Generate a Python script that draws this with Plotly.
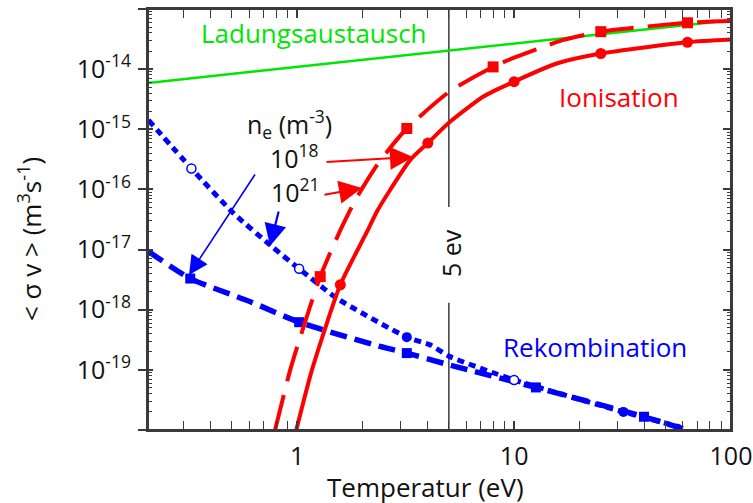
import numpy as np
import plotly.graph_objects as go

# ---------------- data ----------------
# Charge exchange (Ladungsaustausch)
T_cx = [0.205, 100]
S_cx = [5.9e-15, 6.5e-14]

# Ionisation, solid (circles)
T_ion_a = [0.99, 1.169, 1.58, 2.10, 2.33, 2.68, 3.32, 4.0, 5.06, 7.22, 10, 15.7, 25.1, 63, 100]
S_ion_a = [1e-20, 1.0e-19, 2.6e-18, 2.0e-17, 4.3e-17, 9.8e-17, 3.1e-16, 5.9e-16, 1.33e-15,
           3.5e-15, 6.2e-15, 1.24e-14, 1.82e-14, 2.8e-14, 3.1e-14]
T_ion_a_mk = [1.58, 4.0, 10, 25.1, 63]
S_ion_a_mk = [2.6e-18, 5.9e-16, 6.2e-15, 1.82e-14, 2.8e-14]

# Ionisation, dashed (squares)
T_ion_b = [0.79, 0.928, 1.032, 1.276, 1.58, 1.85, 2.29, 2.59, 3.2, 5.06, 8.0, 10, 16.6, 25.1, 63, 100]
S_ion_b = [1e-20, 1e-19, 3.5e-19, 3.55e-18, 2.1e-17, 6.6e-17, 2.3e-16, 4.2e-16, 1.03e-15,
           4.3e-15, 1.09e-14, 1.55e-14, 3.0e-14, 4.2e-14, 5.9e-14, 6.3e-14]
T_ion_b_mk = [1.276, 3.2, 8.0, 25.1, 63]
S_ion_b_mk = [3.55e-18, 1.03e-15, 1.09e-14, 4.2e-14, 5.9e-14]

# Recombination, dotted (circles)
T_rec_a = [0.206, 0.325, 0.509, 0.765, 1.02, 1.524, 3.2, 4.1, 5.06, 10, 31.9, 58.2]
S_rec_a = [1.42e-15, 2.23e-16, 4.0e-17, 1.12e-17, 4.8e-18, 1.55e-18, 3.5e-19, 2.6e-19,
           1.66e-19, 6.8e-20, 2.0e-20, 1.12e-20]
T_rec_a_open = [0.325, 1.02, 10]
S_rec_a_open = [2.23e-16, 4.8e-18, 6.8e-20]
T_rec_a_fill = [3.2, 31.9]
S_rec_a_fill = [3.5e-19, 2.0e-20]

# Recombination, dashed (squares)
T_rec_b = [0.206, 0.321, 0.607, 1.02, 2.41, 3.2, 5.06, 12.6, 39.7, 60]
S_rec_b = [9.3e-18, 3.3e-18, 1.36e-18, 6.2e-19, 2.45e-19, 1.9e-19, 1.2e-19, 5.1e-20,
           1.66e-20, 1.05e-20]
T_rec_b_mk = [0.321, 1.02, 3.2, 12.6, 39.7]
S_rec_b_mk = [3.3e-18, 6.2e-19, 1.9e-19, 5.1e-20, 1.66e-20]

# 5 eV marker line (with a gap for its label)
T_5ev = [5, 5, None, 5, 5]
S_5ev = [1e-20, 1.3e-18, None, 5.1e-17, 1e-13]

# axis ticks
x_tickvals = [1, 10, 100]
x_ticktext = ["1", "10", "100"]
y_exponents = [-19, -18, -17, -16, -15, -14]
y_tickvals = [10.0 ** e for e in y_exponents]
y_ticktext = ["10<sup>%d</sup>" % e for e in y_exponents]
y_all_major = [10.0 ** e for e in range(-20, -12)]

x_minor = [k * 10.0 ** e for e in range(-1, 2) for k in range(2, 10)]
y_minor = [k * 10.0 ** e for e in range(-20, -13) for k in range(2, 10)]

# ---------------- figure ----------------
RED = "#ff0000"
BLUE = "#0000ff"
GREEN = "#00e600"
AX = "#3a3a3a"
FONT = "Open Sans"

W, H = 753, 503
L, R, T, B = 148, 22, 9, 73
PW, PH = W - L - R, H - T - B


def px(x):
    return (x - L) / PW


def py(y):
    return (H - B - y) / PH


fig = go.Figure()

fig.add_trace(go.Scatter(x=T_5ev, y=S_5ev, mode="lines",
                         line=dict(color=AX, width=1.5), hoverinfo="skip"))
fig.add_trace(go.Scatter(x=T_cx, y=S_cx, mode="lines",
                         line=dict(color=GREEN, width=2.5)))

fig.add_trace(go.Scatter(x=T_rec_b, y=S_rec_b, mode="lines",
                         line=dict(color=BLUE, width=5.5, dash="17px,8px", shape="spline", smoothing=0.6)))
fig.add_trace(go.Scatter(x=T_rec_b_mk, y=S_rec_b_mk, mode="markers",
                         marker=dict(symbol="square", size=10, color=BLUE)))
fig.add_trace(go.Scatter(x=T_rec_a, y=S_rec_a, mode="lines",
                         line=dict(color=BLUE, width=5, dash="7px,5px", shape="spline", smoothing=0.6)))
fig.add_trace(go.Scatter(x=T_rec_a_fill, y=S_rec_a_fill, mode="markers",
                         marker=dict(symbol="circle", size=10, color=BLUE)))
fig.add_trace(go.Scatter(x=T_rec_a_open, y=S_rec_a_open, mode="markers",
                         marker=dict(symbol="circle", size=9, color="white",
                                     line=dict(color=BLUE, width=1.5))))

fig.add_trace(go.Scatter(x=T_ion_b, y=S_ion_b, mode="lines",
                         line=dict(color=RED, width=4, dash="36px,14px", shape="spline", smoothing=0.6)))
fig.add_trace(go.Scatter(x=T_ion_b_mk, y=S_ion_b_mk, mode="markers",
                         marker=dict(symbol="square", size=11, color=RED)))
fig.add_trace(go.Scatter(x=T_ion_a, y=S_ion_a, mode="lines",
                         line=dict(color=RED, width=4, shape="spline", smoothing=0.6)))
fig.add_trace(go.Scatter(x=T_ion_a_mk, y=S_ion_a_mk, mode="markers",
                         marker=dict(symbol="circle", size=11, color=RED)))

# invisible helper traces so the overlay axes (right frame ticks, inner tick parts) exist
for ax_name in ("y2", "y3"):
    fig.add_trace(go.Scatter(x=T_cx, y=S_cx, yaxis=ax_name, mode="lines",
                             line=dict(width=0), opacity=0, hoverinfo="skip"))

xr = [np.log10(0.205), 2]
yr = [-20, -13]

fig.update_layout(
    width=W, height=H,
    margin=dict(l=L, r=R, t=T, b=B, pad=0),
    paper_bgcolor="white", plot_bgcolor="white",
    showlegend=False,
    font=dict(family=FONT, size=25, color="#111"),
    xaxis=dict(type="log", range=xr, showgrid=False, zeroline=False, automargin=False,
               showline=True, linewidth=2, linecolor=AX, mirror="allticks",
               tickmode="array", tickvals=x_tickvals, ticktext=x_ticktext,
               ticks="inside", ticklen=9, tickwidth=1.5, tickcolor=AX,
               ticklabelstandoff=3,
               minor=dict(tickmode="array", tickvals=x_minor, ticks="inside",
                          ticklen=5, tickwidth=1, tickcolor=AX),
               tickfont=dict(family=FONT, size=25, color="#111")),
    yaxis=dict(type="log", range=yr, showgrid=False, zeroline=False, automargin=False,
               showline=True, linewidth=2, linecolor=AX, mirror=False,
               tickmode="array", tickvals=y_all_major,
               ticktext=[""] + y_ticktext + [""],
               ticks="outside", ticklen=8, tickwidth=1.5, tickcolor=AX,
               ticklabelstandoff=2,
               minor=dict(tickmode="array", tickvals=y_minor, ticks="inside",
                          ticklen=4, tickwidth=1, tickcolor=AX),
               tickfont=dict(family=FONT, size=25, color="#111")),
    yaxis2=dict(type="log", range=yr, overlaying="y", side="right", anchor="x",
                showgrid=False, zeroline=False, showline=True, linewidth=2, linecolor=AX,
                automargin=False,
                tickmode="array", tickvals=y_tickvals, showticklabels=False,
                ticks="inside", ticklen=8, tickwidth=1.5, tickcolor=AX,
                minor=dict(tickmode="array", tickvals=y_minor, ticks="inside",
                           ticklen=4, tickwidth=1, tickcolor=AX)),
    yaxis3=dict(type="log", range=yr, overlaying="y", side="left", anchor="x",
                showgrid=False, zeroline=False, showline=False, automargin=False,
                tickmode="array", tickvals=y_tickvals, showticklabels=False,
                ticks="inside", ticklen=5, tickwidth=1.5, tickcolor=AX),
    shapes=[dict(type="rect", xref="paper", yref="paper", x0=0, x1=1, y0=0, y1=1,
                 line=dict(color=AX, width=2), fillcolor="rgba(0,0,0,0)", layer="above")],
)

ann = []


def text(x, y, s, color="#111", size=25, angle=0, xanchor="center", yanchor="middle"):
    ann.append(dict(xref="paper", yref="paper", x=px(x), y=py(y), text=s,
                    showarrow=False, textangle=angle, xanchor=xanchor, yanchor=yanchor,
                    font=dict(family=FONT, size=size, color=color)))


def arrow(tip, tail, color, width, size):
    ann.append(dict(xref="paper", yref="paper", x=px(tip[0]), y=py(tip[1]),
                    ax=tail[0] - tip[0], ay=tail[1] - tip[1], axref="pixel", ayref="pixel",
                    text="", showarrow=True, arrowhead=2, arrowsize=size,
                    arrowwidth=width, arrowcolor=color, standoff=0, startstandoff=0))


text(314, 33, "Ladungsaustausch", color=GREEN, size=26)
text(619, 97, "Ionisation", color=RED, size=26)
text(595, 347, "Rekombination", color=BLUE, size=26)
text(289, 124, "n<sub>e</sub> (m<sup>-3</sup>)", size=25)
text(294, 157, "10<sup>18</sup>", size=25)
text(295, 190, "10<sup>21</sup>", size=25)
text(451, 253, "5 ev", size=25, angle=-90)
text(30, 239, "&lt; σ v &gt; (m<sup>3</sup>s<sup>-1</sup>)", size=26, angle=-90)
text(425, 487, "Temperatur (eV)", size=26)

arrow((189, 275), (256, 173), BLUE, 1.6, 2.4)
arrow((270, 246), (279, 210), BLUE, 2.2, 2.0)
arrow((413, 157), (325, 162), RED, 2, 2.3)
arrow((362, 188), (323, 195), RED, 2, 2.3)

fig.update_layout(annotations=ann)

fig.write_html("out.html", config={"displayModeBar": False},
               post_script="document.body.style.margin='0px';")
